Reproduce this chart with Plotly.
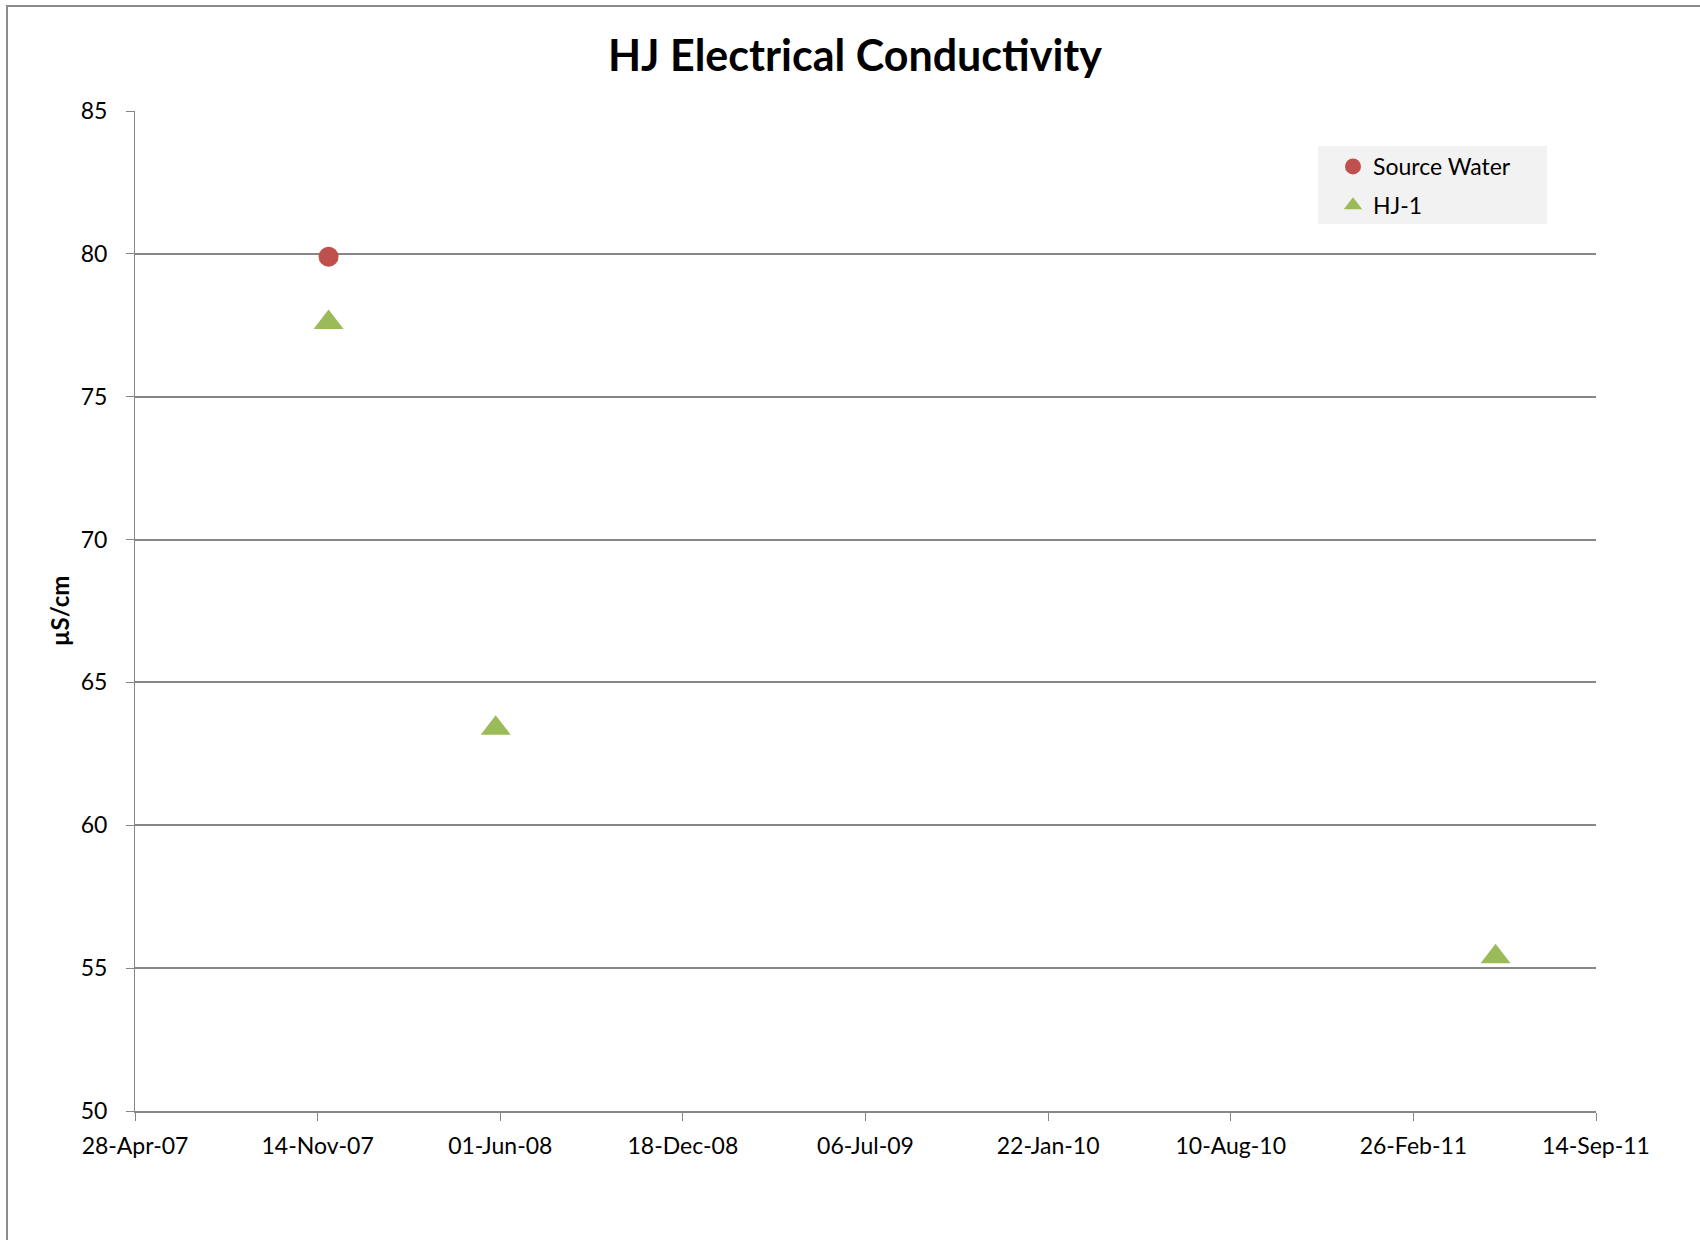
import plotly.graph_objects as go

# Sampling dates and electrical conductivity readings (µS/cm)
source_dates = ["2007-11-26"]
source_ec = [79.9]

hj1_dates = ["2007-11-26", "2008-05-27", "2011-05-27"]
hj1_ec = [77.6, 63.4, 55.4]

x_range = ["2007-04-28", "2011-09-14"]
y_range = [50, 85]
DAY_MS = 86400000

W, H = 1700, 1240
ML, MR, MT, MB = 135, 104, 111, 129
PW, PH = W - ML - MR, H - MT - MB

FONT = "Lato"
GRID = "#868686"


def px_to_paper_x(px):
    return (px - ML) / PW


def px_to_paper_y(py):
    return 1 - (py - MT) / PH


fig = go.Figure()

fig.add_trace(go.Scatter(
    x=source_dates, y=source_ec, name="Source Water", mode="markers",
    marker=dict(symbol="circle", size=20, color="#C0504D"),
    legendgroup="a",
))
fig.add_trace(go.Scatter(
    x=hj1_dates, y=hj1_ec, name="HJ-1", mode="markers",
    marker=dict(symbol="triangle-up", size=26, color="#9BBB59"),
    legendgroup="b",
))

shapes = [
    # outer chart-area frame
    dict(type="rect", xref="paper", yref="paper",
         x0=px_to_paper_x(7), x1=px_to_paper_x(1705),
         y0=px_to_paper_y(1245), y1=px_to_paper_y(6),
         line=dict(color="#8c8c8c", width=2), fillcolor="rgba(0,0,0,0)",
         layer="below"),
    # legend panel
    dict(type="rect", xref="paper", yref="paper",
         x0=px_to_paper_x(1318), x1=px_to_paper_x(1547),
         y0=px_to_paper_y(224), y1=px_to_paper_y(146),
         line=dict(width=0), fillcolor="#f2f2f2", layer="below"),
]

fig.update_layout(
    width=W, height=H,
    margin=dict(l=ML, r=MR, t=MT, b=MB),
    paper_bgcolor="white", plot_bgcolor="white",
    font=dict(family=FONT, size=23, color="black"),
    title=dict(
        text="<b>HJ Electrical Conductivity</b>",
        font=dict(family=FONT, size=43, color="black"),
        x=px_to_paper_x(855), xref="paper", xanchor="center",
        y=1 - 56 / H, yref="container", yanchor="middle",
    ),
    showlegend=True,
    legend=dict(
        x=px_to_paper_x(1333), y=px_to_paper_y(145),
        xanchor="left", yanchor="top",
        bgcolor="rgba(0,0,0,0)",
        font=dict(family=FONT, size=23, color="black"),
        traceorder="grouped", tracegroupgap=6,
        itemclick=False,
    ),
    shapes=shapes,
    xaxis=dict(
        type="date", range=x_range,
        tick0=x_range[0], dtick=200 * DAY_MS,
        tickformat="%d-%b-%y",
        showgrid=False, zeroline=False,
        showline=True, linecolor=GRID, linewidth=2,
        ticks="outside", ticklen=8, tickcolor=GRID, tickwidth=1,
        ticklabelstandoff=5,
        tickfont=dict(family=FONT, size=23),
    ),
    yaxis=dict(
        range=y_range, dtick=5, tick0=50,
        showgrid=True, gridcolor=GRID, gridwidth=1.5,
        zeroline=False,
        showline=True, linecolor=GRID, linewidth=1,
        ticks="outside", ticklen=8, tickcolor=GRID, tickwidth=1,
        ticklabelstandoff=14,
        tickfont=dict(family=FONT, size=23),
        title=dict(text="<b>µS/cm</b>", font=dict(family=FONT, size=24),
                   standoff=4),
    ),
)

fig.write_html("out.html")
